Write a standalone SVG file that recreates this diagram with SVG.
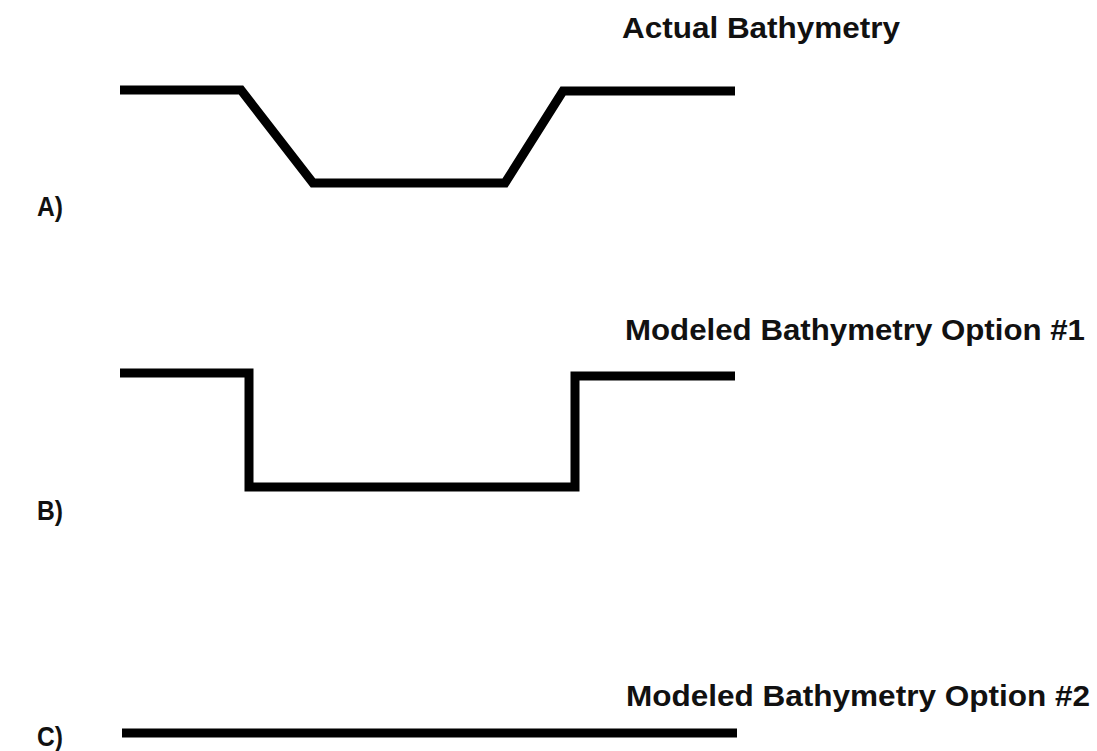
<svg xmlns="http://www.w3.org/2000/svg" width="1097" height="751" viewBox="0 0 1097 751">
<style>
.t{font-family:"Liberation Sans",Arial,sans-serif;font-weight:bold;font-size:29px;fill:#111}
.k{font-family:"Liberation Sans",Arial,sans-serif;font-weight:bold;font-size:28px;fill:#111}
.l{fill:none;stroke:#000;stroke-width:9;stroke-linejoin:miter}
</style>
<rect width="1097" height="751" fill="#fff"/>
<g id="labels">
<text class="t" x="622" y="38" textLength="278" lengthAdjust="spacingAndGlyphs">Actual Bathymetry</text>
<text class="t" x="625" y="340" textLength="460" lengthAdjust="spacingAndGlyphs">Modeled Bathymetry Option #1</text>
<text class="t" x="626" y="706" textLength="464" lengthAdjust="spacingAndGlyphs">Modeled Bathymetry Option #2</text>
<text class="k" x="37" y="216" textLength="26" lengthAdjust="spacingAndGlyphs">A)</text>
<text class="k" x="37" y="520" textLength="26" lengthAdjust="spacingAndGlyphs">B)</text>
<text class="k" x="37" y="746" textLength="26" lengthAdjust="spacingAndGlyphs">C)</text>
</g>
<g id="connectors">
<polyline id="profileA" class="l" points="120,90 241,90 313,183 505,183 563,91 735,91"/>
<polyline id="profileB" class="l" points="120,373 249,373 249,487 575,487 575,376 735,376"/>
<polyline id="profileC" class="l" points="122,733 737,733"/>
</g>
</svg>
